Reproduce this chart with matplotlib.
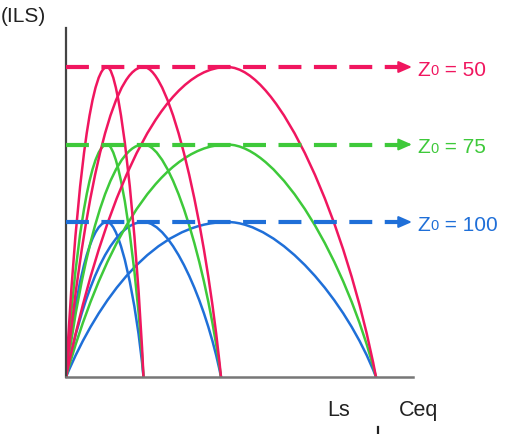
import matplotlib
matplotlib.use("Agg")
import matplotlib.pyplot as plt
from matplotlib.path import Path
from matplotlib.patches import PathPatch
from matplotlib.lines import Line2D

plt.rcParams["font.family"] = ["Liberation Sans", "DejaVu Sans"]

# ---- data ----
z0_labels = ["50", "75", "100"]
levels = [4.0, 3.0, 2.0]            # peak power level for each Z0
curve_ends = [1.0, 2.0, 4.0]        # where each arc returns to zero
curve_peaks = [0.53, 1.0, 2.08]     # x of the maximum of each arc
colors = ["#f0165f", "#3ec93a", "#1f6fd8"]

W, H = 514, 435
fig = plt.figure(figsize=(W / 100, H / 100), dpi=100)
ax = fig.add_axes([66 / W, (H - 378) / H, 347 / W, 349 / H])
ax.set_xlim(0, 347 / 77.5)
ax.set_ylim(0, 349 / 77.5)
for s in ["top", "right"]:
    ax.spines[s].set_visible(False)
ax.spines["left"].set_color("#444444")
ax.spines["left"].set_linewidth(1.6)
ax.spines["bottom"].set_color("#777777")
ax.spines["bottom"].set_linewidth(1.8)
ax.set_xticks([])
ax.set_yticks([])


def arc(p, e, lvl):
    w = e - p
    verts = [(0, 0), (0.2 * p, 0.5 * lvl), (0.55 * p, lvl), (p, lvl),
             (p + 0.35 * w, lvl), (e - 0.2 * w, 0.5 * lvl), (e, 0)]
    codes = [Path.MOVETO] + [Path.CURVE4] * 6
    return Path(verts, codes)


# curves: blue first, red on top
for lvl, col in list(zip(levels, colors))[::-1]:
    for p, e in zip(curve_peaks, curve_ends):
        ax.add_patch(PathPatch(arc(p, e, lvl), fill=False, edgecolor=col,
                               lw=1.8, capstyle="round", zorder=2))

tip = 346 / 77.5
head = 14 / 77.5
for lvl, col, lab in zip(levels, colors, z0_labels):
    ax.plot([0, tip - head * 0.6], [lvl, lvl], color=col, lw=3.0,
            linestyle=(0, (5.5, 3.0)), solid_capstyle="butt",
            dash_capstyle="butt", zorder=3)
    ax.annotate("", xy=(tip, lvl), xytext=(tip - head, lvl),
                arrowprops=dict(arrowstyle="-|>,head_length=0.8,head_width=0.35",
                                color=col, lw=1.5, shrinkA=0, shrinkB=0),
                zorder=4, annotation_clip=False)
    t1 = ax.annotate("Z", xy=(tip, lvl), xytext=(4, -5.5), textcoords="offset points",
                     color=col, fontsize=15, va="baseline", ha="left",
                     annotation_clip=False)
    t2 = ax.annotate("0", xy=(1, 0), xycoords=t1, xytext=(0.3, 1.0),
                     textcoords="offset points", color=col, fontsize=10.5,
                     va="bottom", ha="left")
    ax.annotate(" = " + lab, xy=(1, 0), xycoords=t2, xytext=(0, -1.0),
                textcoords="offset points", color=col,
                fontsize=15, va="bottom", ha="left")

fig.text(1 / W, (H - 16) / H, "(ILS)", fontsize=15, color="#222222", va="center", ha="left")
fig.text(327 / W, (H - 411) / H, "Ls", fontsize=15.5, color="#222222", va="center", ha="left")
fig.text(399 / W, (H - 411) / H, "Ceq", fontsize=15.5, color="#222222", va="center", ha="left")
fig.add_artist(Line2D([377.5 / W, 377.5 / W], [0, 7 / H], color="#222222", lw=1.6,
                      transform=fig.transFigure))

fig.savefig("out.png", dpi=100)
